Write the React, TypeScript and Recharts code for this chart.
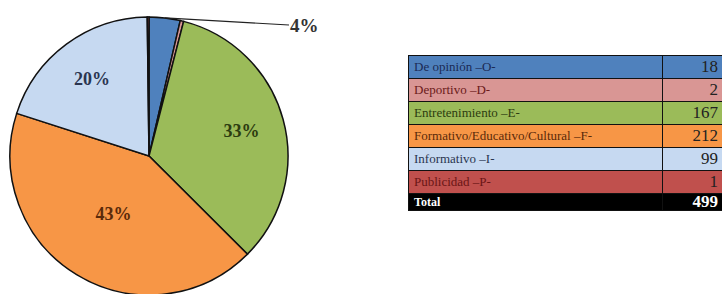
import { Cell, Pie, PieChart } from "recharts";

const categories = [
  "De opinión –O-",
  "Deportivo –D-",
  "Entretenimiento –E-",
  "Formativo/Educativo/Cultural –F-",
  "Informativo –I-",
  "Publicidad –P-",
];
const counts = [18, 2, 167, 212, 99, 1];
const fills = ["#4f81bd", "#d99694", "#9bbb59", "#f79646", "#c6d9f1", "#c0504d"];
const inks = ["#1b2a55", "#6b1a1a", "#2d3c10", "#5a2a0a", "#2a3550", "#6a1515"];
const totalLabel = "Total";

const total = counts.reduce((a, b) => a + b, 0);

// redondeo por mayor resto para que los porcentajes sumen 100 (como la hoja original)
function roundedPercents(vals: number[]) {
  const raw = vals.map((v) => (v / total) * 100);
  const out = raw.map(Math.floor);
  let left = 100 - out.reduce((a, b) => a + b, 0);
  const order = raw.map((r, i) => ({ i, rem: r - Math.floor(r) })).sort((a, b) => b.rem - a.rem);
  for (const o of order) {
    if (left <= 0) break;
    out[o.i] += 1;
    left -= 1;
  }
  return out;
}
const pcts = roundedPercents(counts);
const data = categories.map((name, i) => ({ name, value: counts[i], pct: pcts[i] }));

const RAD = Math.PI / 180;
const serif = "'Liberation Serif', 'DejaVu Serif', serif";

function renderLabel(props: any) {
  const { cx, cy, midAngle, outerRadius, index } = props;
  const pct = pcts[index];
  if (pct < 1) return null;
  const cos = Math.cos(-midAngle * RAD);
  const sin = Math.sin(-midAngle * RAD);
  if (pct < 10) {
    // etiqueta externa con línea guía
    const sx = cx + outerRadius * cos;
    const sy = cy + outerRadius * sin;
    const ex = cx + outerRadius + 1;
    const ey = cy - outerRadius + 8;
    return (
      <g>
        <line x1={sx} y1={sy} x2={ex} y2={ey} stroke="#222" strokeWidth={1.2} />
        <text x={ex + 1} y={ey} dominantBaseline="central" fill="#333" fontFamily={serif} fontWeight="bold" fontSize={19}>
          {pct}%
        </text>
      </g>
    );
  }
  const f = pct > 40 ? 0.49 : 0.69;
  const x = cx + outerRadius * f * cos;
  const y = cy + outerRadius * f * sin;
  return (
    <text x={x} y={y} textAnchor="middle" dominantBaseline="central" fill={inks[index]} fontFamily={serif} fontWeight="bold" fontSize={18}>
      {pct}%
    </text>
  );
}

const line = "#111";

function Row({ bg, name, value, nameColor, valueColor, h, bold, nameSize }: {
  bg: string; name: string; value: number; nameColor: string; valueColor: string; h: number; bold?: boolean; nameSize: number;
}) {
  return (
    <div style={{ display: "flex", height: h, background: bg, borderBottom: `1px solid ${line}` }}>
      <div style={{ width: 254, flexShrink: 0, paddingLeft: 5, fontSize: nameSize, lineHeight: `${h}px`, color: nameColor, fontWeight: bold ? "bold" : "normal", borderRight: `1px solid ${line}`, boxSizing: "border-box" }}>
        {name}
      </div>
      <div style={{ flex: 1, paddingRight: 4, textAlign: "right", fontSize: 17, lineHeight: `${h}px`, color: valueColor, fontWeight: bold ? "bold" : "normal" }}>
        {value}
      </div>
    </div>
  );
}

export default function App() {
  return (
    <div style={{ position: "absolute", left: 0, top: 0, width: 723, height: 294, background: "#fff", overflow: "hidden" }}>
      <div style={{ position: "absolute", left: 0, top: 0 }}>
        <PieChart width={340} height={294} margin={{ top: 0, right: 0, bottom: 0, left: 0 }}>
          <Pie
            data={data}
            dataKey="value"
            nameKey="name"
            cx={149}
            cy={156}
            outerRadius={139}
            startAngle={90}
            endAngle={-270}
            stroke="#111"
            strokeWidth={1.5}
            label={renderLabel}
            labelLine={false}
            isAnimationActive={false}
          >
            {data.map((d, i) => <Cell key={d.name} fill={fills[i]} />)}
          </Pie>
        </PieChart>
      </div>
      <div
        style={{
          position: "absolute", left: 408, top: 55, width: 314, boxSizing: "border-box", fontFamily: serif,
          borderTop: `1.5px solid ${line}`, borderLeft: `1.5px solid ${line}`,
        }}
      >
        {data.map((d, i) => (
          <Row key={d.name} bg={fills[i]} name={d.name} value={d.value} nameColor={inks[i]} valueColor="#222" h={22} nameSize={13} />
        ))}
        <Row bg="#000" name={totalLabel} value={total} nameColor="#fff" valueColor="#fff" h={16} bold nameSize={12} />
      </div>
    </div>
  );
}
